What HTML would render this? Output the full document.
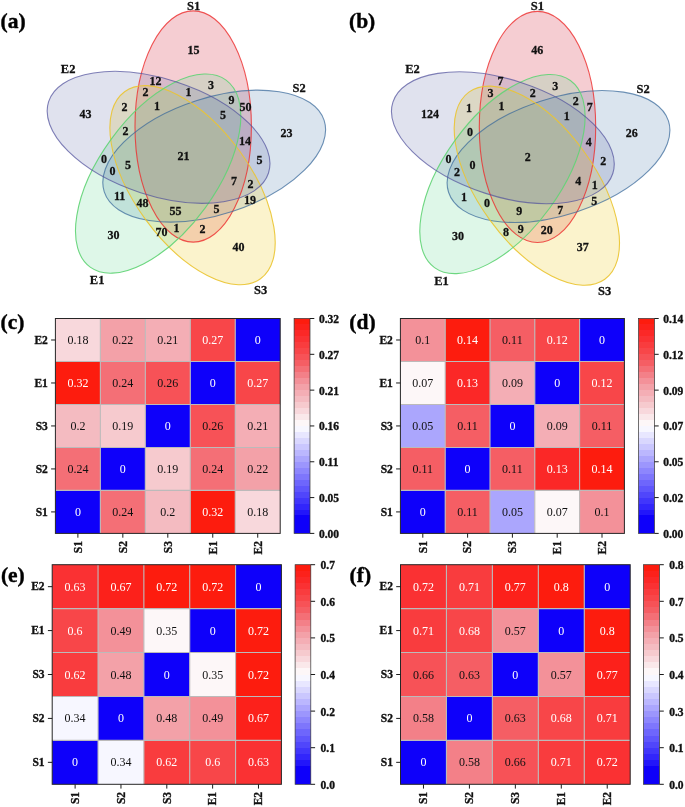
<!DOCTYPE html>
<html><head><meta charset="utf-8"><title>Figure</title><style>
html,body{margin:0;padding:0;background:#fff;}
svg{display:block}
text{font-family:"Liberation Serif","Times New Roman",serif;}
.vn{font-size:12px;font-weight:bold;stroke:#111;stroke-width:.28px;text-anchor:middle;dominant-baseline:central;fill:#111}
.vl{font-size:12.5px;font-weight:bold;stroke:#111;stroke-width:.28px;text-anchor:middle;dominant-baseline:central;fill:#111}
.tag{font-size:21.5px;font-weight:bold;stroke:#000;stroke-width:.4px;fill:#000}
.ct{font-size:12px;text-anchor:middle}
.yl{font-size:11.5px;font-weight:bold;stroke:#111;stroke-width:.35px;text-anchor:end;fill:#111}
.xl{font-size:11.5px;font-weight:bold;stroke:#111;stroke-width:.35px;text-anchor:end;fill:#111}
.cl{font-size:11.5px;font-weight:bold;stroke:#111;stroke-width:.35px;fill:#111}
.gl{stroke:#bcbaba;stroke-width:1.1}
.tk{stroke:#1a1a1a;stroke-width:1}
</style></head>
<body><svg width="685" height="807" viewBox="0 0 685 807">
<rect width="685" height="807" fill="#fff"/>
<g>
<ellipse cx="193.20" cy="126.50" rx="58.2" ry="115.6" transform="rotate(0 193.20 126.50)" fill="rgb(213, 47, 68)" fill-opacity="0.24"/>
<ellipse cx="214.20" cy="156.10" rx="58.2" ry="115.6" transform="rotate(72 214.20 156.10)" fill="rgb(87, 132, 178)" fill-opacity="0.22"/>
<ellipse cx="192.54" cy="185.22" rx="58.2" ry="115.6" transform="rotate(144 192.54 185.22)" fill="rgb(241, 215, 85)" fill-opacity="0.3"/>
<ellipse cx="158.15" cy="173.61" rx="58.2" ry="115.6" transform="rotate(216 158.15 173.61)" fill="rgb(105, 219, 150)" fill-opacity="0.22"/>
<ellipse cx="158.56" cy="137.32" rx="58.2" ry="115.6" transform="rotate(288 158.56 137.32)" fill="rgb(100, 108, 170)" fill-opacity="0.2"/>
<ellipse cx="193.20" cy="126.50" rx="58.2" ry="115.6" transform="rotate(0 193.20 126.50)" fill="none" stroke="rgb(236, 44, 44)" stroke-opacity="0.8" stroke-width="1.1"/>
<ellipse cx="214.20" cy="156.10" rx="58.2" ry="115.6" transform="rotate(72 214.20 156.10)" fill="none" stroke="rgb(56, 104, 154)" stroke-opacity="0.72" stroke-width="1.1"/>
<ellipse cx="192.54" cy="185.22" rx="58.2" ry="115.6" transform="rotate(144 192.54 185.22)" fill="none" stroke="rgb(234, 196, 50)" stroke-opacity="0.92" stroke-width="1.1"/>
<ellipse cx="158.15" cy="173.61" rx="58.2" ry="115.6" transform="rotate(216 158.15 173.61)" fill="none" stroke="rgb(98, 212, 118)" stroke-opacity="0.92" stroke-width="1.1"/>
<ellipse cx="158.56" cy="137.32" rx="58.2" ry="115.6" transform="rotate(288 158.56 137.32)" fill="none" stroke="rgb(82, 82, 156)" stroke-opacity="0.72" stroke-width="1.1"/>
<text x="193.6" y="49.8" class="vn">15</text>
<text x="155.6" y="80.8" class="vn">12</text>
<text x="211.1" y="85.3" class="vn">3</text>
<text x="145.6" y="92.3" class="vn">2</text>
<text x="188.6" y="92.3" class="vn">1</text>
<text x="231.6" y="100.3" class="vn">9</text>
<text x="245.6" y="106.8" class="vn">50</text>
<text x="124.6" y="107.3" class="vn">2</text>
<text x="157.1" y="105.8" class="vn">1</text>
<text x="85.6" y="113.8" class="vn">43</text>
<text x="223.1" y="115.3" class="vn">5</text>
<text x="286.6" y="132.8" class="vn">23</text>
<text x="125.6" y="131.3" class="vn">2</text>
<text x="245.1" y="140.8" class="vn">14</text>
<text x="183.6" y="155.8" class="vn">21</text>
<text x="104.1" y="159.3" class="vn">0</text>
<text x="259.6" y="160.3" class="vn">5</text>
<text x="128.1" y="164.8" class="vn">5</text>
<text x="112.6" y="171.3" class="vn">0</text>
<text x="234.1" y="180.8" class="vn">7</text>
<text x="250.6" y="183.8" class="vn">2</text>
<text x="119.6" y="196.3" class="vn">11</text>
<text x="250.1" y="199.8" class="vn">19</text>
<text x="142.6" y="202.8" class="vn">48</text>
<text x="175.6" y="210.8" class="vn">55</text>
<text x="216.6" y="208.8" class="vn">5</text>
<text x="161.6" y="231.8" class="vn">70</text>
<text x="176.6" y="228.3" class="vn">1</text>
<text x="202.6" y="229.3" class="vn">2</text>
<text x="113.6" y="234.8" class="vn">30</text>
<text x="238.6" y="246.8" class="vn">40</text>
<text x="193.6" y="5.8" class="vl">S1</text>
<text x="299.1" y="88.3" class="vl">S2</text>
<text x="68.1" y="68.8" class="vl">E2</text>
<text x="97.1" y="280.3" class="vl">E1</text>
<text x="260.6" y="290.3" class="vl">S3</text>
<text x="0.5" y="28.4" class="tag">(a)</text>
</g>
<g>
<ellipse cx="537.50" cy="126.95" rx="58.2" ry="115.6" transform="rotate(0 537.50 126.95)" fill="rgb(213, 47, 68)" fill-opacity="0.24"/>
<ellipse cx="558.50" cy="156.55" rx="58.2" ry="115.6" transform="rotate(72 558.50 156.55)" fill="rgb(87, 132, 178)" fill-opacity="0.22"/>
<ellipse cx="536.84" cy="185.67" rx="58.2" ry="115.6" transform="rotate(144 536.84 185.67)" fill="rgb(241, 215, 85)" fill-opacity="0.3"/>
<ellipse cx="502.45" cy="174.06" rx="58.2" ry="115.6" transform="rotate(216 502.45 174.06)" fill="rgb(105, 219, 150)" fill-opacity="0.22"/>
<ellipse cx="502.86" cy="137.77" rx="58.2" ry="115.6" transform="rotate(288 502.86 137.77)" fill="rgb(100, 108, 170)" fill-opacity="0.2"/>
<ellipse cx="537.50" cy="126.95" rx="58.2" ry="115.6" transform="rotate(0 537.50 126.95)" fill="none" stroke="rgb(236, 44, 44)" stroke-opacity="0.8" stroke-width="1.1"/>
<ellipse cx="558.50" cy="156.55" rx="58.2" ry="115.6" transform="rotate(72 558.50 156.55)" fill="none" stroke="rgb(56, 104, 154)" stroke-opacity="0.72" stroke-width="1.1"/>
<ellipse cx="536.84" cy="185.67" rx="58.2" ry="115.6" transform="rotate(144 536.84 185.67)" fill="none" stroke="rgb(234, 196, 50)" stroke-opacity="0.92" stroke-width="1.1"/>
<ellipse cx="502.45" cy="174.06" rx="58.2" ry="115.6" transform="rotate(216 502.45 174.06)" fill="none" stroke="rgb(98, 212, 118)" stroke-opacity="0.92" stroke-width="1.1"/>
<ellipse cx="502.86" cy="137.77" rx="58.2" ry="115.6" transform="rotate(288 502.86 137.77)" fill="none" stroke="rgb(82, 82, 156)" stroke-opacity="0.72" stroke-width="1.1"/>
<text x="537.3" y="49.8" class="vn">46</text>
<text x="500.4" y="80.8" class="vn">7</text>
<text x="555.3" y="85.8" class="vn">3</text>
<text x="490.4" y="93.3" class="vn">3</text>
<text x="532.8" y="92.8" class="vn">2</text>
<text x="575.8" y="100.7" class="vn">2</text>
<text x="589.7" y="106.7" class="vn">7</text>
<text x="468.9" y="107.7" class="vn">1</text>
<text x="501.4" y="106.2" class="vn">1</text>
<text x="429.9" y="113.5" class="vn">124</text>
<text x="566.8" y="115.7" class="vn">1</text>
<text x="631.7" y="133.2" class="vn">26</text>
<text x="469.9" y="131.7" class="vn">0</text>
<text x="588.7" y="141.7" class="vn">4</text>
<text x="527.8" y="156.7" class="vn">2</text>
<text x="448.4" y="158.8" class="vn">0</text>
<text x="603.2" y="160.7" class="vn">2</text>
<text x="472.4" y="165.2" class="vn">0</text>
<text x="456.9" y="172.1" class="vn">2</text>
<text x="578.2" y="181.1" class="vn">4</text>
<text x="594.7" y="184.6" class="vn">1</text>
<text x="463.9" y="196.6" class="vn">1</text>
<text x="594.2" y="200.6" class="vn">5</text>
<text x="486.9" y="203.1" class="vn">0</text>
<text x="519.3" y="211.1" class="vn">9</text>
<text x="560.3" y="209.6" class="vn">7</text>
<text x="505.9" y="232.1" class="vn">8</text>
<text x="520.8" y="228.6" class="vn">9</text>
<text x="546.8" y="229.6" class="vn">20</text>
<text x="457.9" y="235.5" class="vn">30</text>
<text x="582.7" y="247.0" class="vn">37</text>
<text x="537.3" y="5.9" class="vl">S1</text>
<text x="643.2" y="88.8" class="vl">S2</text>
<text x="412.5" y="69.3" class="vl">E2</text>
<text x="441.5" y="281.0" class="vl">E1</text>
<text x="604.7" y="290.5" class="vl">S3</text>
<text x="349" y="28.3" class="tag">(b)</text>
</g>
<g>
<rect x="55.40" y="490.42" width="44.96" height="42.98" fill="rgb(14, 0, 250)"/>
<rect x="100.36" y="490.42" width="44.96" height="42.98" fill="rgb(244, 111, 118)"/>
<rect x="145.32" y="490.42" width="44.96" height="42.98" fill="rgb(244, 187, 193)"/>
<rect x="190.28" y="490.42" width="44.96" height="42.98" fill="rgb(253, 28, 14)"/>
<rect x="235.24" y="490.42" width="44.96" height="42.98" fill="rgb(248, 216, 220)"/>
<rect x="55.40" y="447.44" width="44.96" height="42.98" fill="rgb(244, 111, 118)"/>
<rect x="100.36" y="447.44" width="44.96" height="42.98" fill="rgb(14, 0, 250)"/>
<rect x="145.32" y="447.44" width="44.96" height="42.98" fill="rgb(246, 202, 206)"/>
<rect x="190.28" y="447.44" width="44.96" height="42.98" fill="rgb(244, 111, 118)"/>
<rect x="235.24" y="447.44" width="44.96" height="42.98" fill="rgb(243, 161, 168)"/>
<rect x="55.40" y="404.46" width="44.96" height="42.98" fill="rgb(244, 187, 193)"/>
<rect x="100.36" y="404.46" width="44.96" height="42.98" fill="rgb(246, 202, 206)"/>
<rect x="145.32" y="404.46" width="44.96" height="42.98" fill="rgb(14, 0, 250)"/>
<rect x="190.28" y="404.46" width="44.96" height="42.98" fill="rgb(247, 82, 87)"/>
<rect x="235.24" y="404.46" width="44.96" height="42.98" fill="rgb(244, 174, 181)"/>
<rect x="55.40" y="361.48" width="44.96" height="42.98" fill="rgb(253, 28, 14)"/>
<rect x="100.36" y="361.48" width="44.96" height="42.98" fill="rgb(244, 111, 118)"/>
<rect x="145.32" y="361.48" width="44.96" height="42.98" fill="rgb(247, 82, 87)"/>
<rect x="190.28" y="361.48" width="44.96" height="42.98" fill="rgb(14, 0, 250)"/>
<rect x="235.24" y="361.48" width="44.96" height="42.98" fill="rgb(248, 70, 73)"/>
<rect x="55.40" y="318.50" width="44.96" height="42.98" fill="rgb(248, 216, 220)"/>
<rect x="100.36" y="318.50" width="44.96" height="42.98" fill="rgb(243, 161, 168)"/>
<rect x="145.32" y="318.50" width="44.96" height="42.98" fill="rgb(244, 174, 181)"/>
<rect x="190.28" y="318.50" width="44.96" height="42.98" fill="rgb(248, 70, 73)"/>
<rect x="235.24" y="318.50" width="44.96" height="42.98" fill="rgb(14, 0, 250)"/>
<line x1="100.36" y1="318.5" x2="100.36" y2="533.4" class="gl"/>
<line x1="55.4" y1="361.48" x2="280.2" y2="361.48" class="gl"/>
<line x1="145.32" y1="318.5" x2="145.32" y2="533.4" class="gl"/>
<line x1="55.4" y1="404.46" x2="280.2" y2="404.46" class="gl"/>
<line x1="190.28" y1="318.5" x2="190.28" y2="533.4" class="gl"/>
<line x1="55.4" y1="447.44" x2="280.2" y2="447.44" class="gl"/>
<line x1="235.24" y1="318.5" x2="235.24" y2="533.4" class="gl"/>
<line x1="55.4" y1="490.42" x2="280.2" y2="490.42" class="gl"/>
<rect x="55.4" y="318.5" width="224.8" height="214.9" fill="none" stroke="#262626" stroke-width="1"/>
<text x="77.88" y="515.91" class="ct" fill="#fff">0</text>
<text x="122.84" y="515.91" class="ct" fill="#111">0.24</text>
<text x="167.80" y="515.91" class="ct" fill="#111">0.2</text>
<text x="212.76" y="515.91" class="ct" fill="#fff">0.32</text>
<text x="257.72" y="515.91" class="ct" fill="#111">0.18</text>
<text x="77.88" y="472.93" class="ct" fill="#111">0.24</text>
<text x="122.84" y="472.93" class="ct" fill="#fff">0</text>
<text x="167.80" y="472.93" class="ct" fill="#111">0.19</text>
<text x="212.76" y="472.93" class="ct" fill="#111">0.24</text>
<text x="257.72" y="472.93" class="ct" fill="#111">0.22</text>
<text x="77.88" y="429.95" class="ct" fill="#111">0.2</text>
<text x="122.84" y="429.95" class="ct" fill="#111">0.19</text>
<text x="167.80" y="429.95" class="ct" fill="#fff">0</text>
<text x="212.76" y="429.95" class="ct" fill="#111">0.26</text>
<text x="257.72" y="429.95" class="ct" fill="#111">0.21</text>
<text x="77.88" y="386.97" class="ct" fill="#fff">0.32</text>
<text x="122.84" y="386.97" class="ct" fill="#111">0.24</text>
<text x="167.80" y="386.97" class="ct" fill="#111">0.26</text>
<text x="212.76" y="386.97" class="ct" fill="#fff">0</text>
<text x="257.72" y="386.97" class="ct" fill="#fff">0.27</text>
<text x="77.88" y="343.99" class="ct" fill="#111">0.18</text>
<text x="122.84" y="343.99" class="ct" fill="#111">0.22</text>
<text x="167.80" y="343.99" class="ct" fill="#111">0.21</text>
<text x="212.76" y="343.99" class="ct" fill="#fff">0.27</text>
<text x="257.72" y="343.99" class="ct" fill="#fff">0</text>
<line x1="51.1" y1="511.91" x2="55.4" y2="511.91" class="tk"/>
<text x="47.8" y="515.51" class="yl">S1</text>
<line x1="77.88" y1="533.4" x2="77.88" y2="537.6999999999999" class="tk"/>
<text transform="translate(81.68 541.00) rotate(-90)" class="xl">S1</text>
<line x1="51.1" y1="468.93" x2="55.4" y2="468.93" class="tk"/>
<text x="47.8" y="472.53" class="yl">S2</text>
<line x1="122.84" y1="533.4" x2="122.84" y2="537.6999999999999" class="tk"/>
<text transform="translate(126.64 541.00) rotate(-90)" class="xl">S2</text>
<line x1="51.1" y1="425.95" x2="55.4" y2="425.95" class="tk"/>
<text x="47.8" y="429.55" class="yl">S3</text>
<line x1="167.80" y1="533.4" x2="167.80" y2="537.6999999999999" class="tk"/>
<text transform="translate(171.60 541.00) rotate(-90)" class="xl">S3</text>
<line x1="51.1" y1="382.97" x2="55.4" y2="382.97" class="tk"/>
<text x="47.8" y="386.57" class="yl">E1</text>
<line x1="212.76" y1="533.4" x2="212.76" y2="537.6999999999999" class="tk"/>
<text transform="translate(216.56 541.00) rotate(-90)" class="xl">E1</text>
<line x1="51.1" y1="339.99" x2="55.4" y2="339.99" class="tk"/>
<text x="47.8" y="343.59" class="yl">E2</text>
<line x1="257.72" y1="533.4" x2="257.72" y2="537.6999999999999" class="tk"/>
<text transform="translate(261.52 541.00) rotate(-90)" class="xl">E2</text>
<defs><linearGradient id="gc" x1="0" y1="1" x2="0" y2="0"><stop offset="0.0000" stop-color="rgb(14, 0, 250)"/><stop offset="0.0278" stop-color="rgb(14, 0, 250)"/><stop offset="0.0278" stop-color="rgb(14, 0, 250)"/><stop offset="0.0556" stop-color="rgb(14, 0, 250)"/><stop offset="0.0556" stop-color="rgb(14, 0, 250)"/><stop offset="0.0833" stop-color="rgb(14, 0, 250)"/><stop offset="0.0833" stop-color="rgb(34, 22, 250)"/><stop offset="0.1111" stop-color="rgb(34, 22, 250)"/><stop offset="0.1111" stop-color="rgb(50, 38, 251)"/><stop offset="0.1389" stop-color="rgb(50, 38, 251)"/><stop offset="0.1389" stop-color="rgb(65, 54, 251)"/><stop offset="0.1667" stop-color="rgb(65, 54, 251)"/><stop offset="0.1667" stop-color="rgb(80, 70, 251)"/><stop offset="0.1944" stop-color="rgb(80, 70, 251)"/><stop offset="0.1944" stop-color="rgb(95, 86, 252)"/><stop offset="0.2222" stop-color="rgb(95, 86, 252)"/><stop offset="0.2222" stop-color="rgb(110, 102, 252)"/><stop offset="0.2500" stop-color="rgb(110, 102, 252)"/><stop offset="0.2500" stop-color="rgb(126, 118, 252)"/><stop offset="0.2778" stop-color="rgb(126, 118, 252)"/><stop offset="0.2778" stop-color="rgb(141, 134, 253)"/><stop offset="0.3056" stop-color="rgb(141, 134, 253)"/><stop offset="0.3056" stop-color="rgb(156, 150, 253)"/><stop offset="0.3333" stop-color="rgb(156, 150, 253)"/><stop offset="0.3333" stop-color="rgb(171, 166, 253)"/><stop offset="0.3611" stop-color="rgb(171, 166, 253)"/><stop offset="0.3611" stop-color="rgb(187, 183, 254)"/><stop offset="0.3889" stop-color="rgb(187, 183, 254)"/><stop offset="0.3889" stop-color="rgb(202, 199, 254)"/><stop offset="0.4167" stop-color="rgb(202, 199, 254)"/><stop offset="0.4167" stop-color="rgb(217, 215, 254)"/><stop offset="0.4444" stop-color="rgb(217, 215, 254)"/><stop offset="0.4444" stop-color="rgb(232, 231, 255)"/><stop offset="0.4722" stop-color="rgb(232, 231, 255)"/><stop offset="0.4722" stop-color="rgb(247, 247, 255)"/><stop offset="0.5000" stop-color="rgb(247, 247, 255)"/><stop offset="0.5000" stop-color="rgb(253, 247, 248)"/><stop offset="0.5278" stop-color="rgb(253, 247, 248)"/><stop offset="0.5278" stop-color="rgb(250, 232, 234)"/><stop offset="0.5556" stop-color="rgb(250, 232, 234)"/><stop offset="0.5556" stop-color="rgb(248, 216, 220)"/><stop offset="0.5833" stop-color="rgb(248, 216, 220)"/><stop offset="0.5833" stop-color="rgb(246, 202, 206)"/><stop offset="0.6111" stop-color="rgb(246, 202, 206)"/><stop offset="0.6111" stop-color="rgb(244, 187, 193)"/><stop offset="0.6389" stop-color="rgb(244, 187, 193)"/><stop offset="0.6389" stop-color="rgb(244, 174, 181)"/><stop offset="0.6667" stop-color="rgb(244, 174, 181)"/><stop offset="0.6667" stop-color="rgb(243, 161, 168)"/><stop offset="0.6944" stop-color="rgb(243, 161, 168)"/><stop offset="0.6944" stop-color="rgb(243, 145, 153)"/><stop offset="0.7222" stop-color="rgb(243, 145, 153)"/><stop offset="0.7222" stop-color="rgb(243, 128, 136)"/><stop offset="0.7500" stop-color="rgb(243, 128, 136)"/><stop offset="0.7500" stop-color="rgb(244, 111, 118)"/><stop offset="0.7778" stop-color="rgb(244, 111, 118)"/><stop offset="0.7778" stop-color="rgb(245, 94, 100)"/><stop offset="0.8056" stop-color="rgb(245, 94, 100)"/><stop offset="0.8056" stop-color="rgb(247, 82, 87)"/><stop offset="0.8333" stop-color="rgb(247, 82, 87)"/><stop offset="0.8333" stop-color="rgb(248, 70, 73)"/><stop offset="0.8611" stop-color="rgb(248, 70, 73)"/><stop offset="0.8611" stop-color="rgb(249, 60, 62)"/><stop offset="0.8889" stop-color="rgb(249, 60, 62)"/><stop offset="0.8889" stop-color="rgb(250, 49, 51)"/><stop offset="0.9167" stop-color="rgb(250, 49, 51)"/><stop offset="0.9167" stop-color="rgb(251, 40, 39)"/><stop offset="0.9444" stop-color="rgb(251, 40, 39)"/><stop offset="0.9444" stop-color="rgb(252, 33, 27)"/><stop offset="0.9722" stop-color="rgb(252, 33, 27)"/><stop offset="0.9722" stop-color="rgb(253, 28, 14)"/><stop offset="1.0000" stop-color="rgb(253, 28, 14)"/></linearGradient></defs>
<rect x="294.1" y="318.5" width="15.9" height="214.9" fill="url(#gc)"/>
<rect x="294.1" y="318.5" width="15.9" height="214.9" fill="none" stroke="#333" stroke-width="0.7"/>
<line x1="310.0" y1="533.40" x2="314.3" y2="533.40" class="tk"/>
<text x="318.90" y="537.80" class="cl">0.00</text>
<line x1="310.0" y1="497.58" x2="314.3" y2="497.58" class="tk"/>
<text x="318.90" y="501.98" class="cl">0.05</text>
<line x1="310.0" y1="461.77" x2="314.3" y2="461.77" class="tk"/>
<text x="318.90" y="466.17" class="cl">0.11</text>
<line x1="310.0" y1="425.95" x2="314.3" y2="425.95" class="tk"/>
<text x="318.90" y="430.35" class="cl">0.16</text>
<line x1="310.0" y1="390.13" x2="314.3" y2="390.13" class="tk"/>
<text x="318.90" y="394.53" class="cl">0.21</text>
<line x1="310.0" y1="354.32" x2="314.3" y2="354.32" class="tk"/>
<text x="318.90" y="358.72" class="cl">0.27</text>
<line x1="310.0" y1="318.50" x2="314.3" y2="318.50" class="tk"/>
<text x="318.90" y="322.90" class="cl">0.32</text>
<text x="0.6" y="329.3" class="tag">(c)</text>
</g>
<g>
<rect x="400.40" y="490.42" width="44.80" height="42.98" fill="rgb(14, 0, 250)"/>
<rect x="445.20" y="490.42" width="44.80" height="42.98" fill="rgb(245, 94, 100)"/>
<rect x="490.00" y="490.42" width="44.80" height="42.98" fill="rgb(171, 166, 253)"/>
<rect x="534.80" y="490.42" width="44.80" height="42.98" fill="rgb(253, 247, 248)"/>
<rect x="579.60" y="490.42" width="44.80" height="42.98" fill="rgb(243, 145, 153)"/>
<rect x="400.40" y="447.44" width="44.80" height="42.98" fill="rgb(245, 94, 100)"/>
<rect x="445.20" y="447.44" width="44.80" height="42.98" fill="rgb(14, 0, 250)"/>
<rect x="490.00" y="447.44" width="44.80" height="42.98" fill="rgb(245, 94, 100)"/>
<rect x="534.80" y="447.44" width="44.80" height="42.98" fill="rgb(251, 40, 39)"/>
<rect x="579.60" y="447.44" width="44.80" height="42.98" fill="rgb(253, 28, 14)"/>
<rect x="400.40" y="404.46" width="44.80" height="42.98" fill="rgb(171, 166, 253)"/>
<rect x="445.20" y="404.46" width="44.80" height="42.98" fill="rgb(245, 94, 100)"/>
<rect x="490.00" y="404.46" width="44.80" height="42.98" fill="rgb(14, 0, 250)"/>
<rect x="534.80" y="404.46" width="44.80" height="42.98" fill="rgb(244, 174, 181)"/>
<rect x="579.60" y="404.46" width="44.80" height="42.98" fill="rgb(245, 94, 100)"/>
<rect x="400.40" y="361.48" width="44.80" height="42.98" fill="rgb(253, 247, 248)"/>
<rect x="445.20" y="361.48" width="44.80" height="42.98" fill="rgb(251, 40, 39)"/>
<rect x="490.00" y="361.48" width="44.80" height="42.98" fill="rgb(244, 174, 181)"/>
<rect x="534.80" y="361.48" width="44.80" height="42.98" fill="rgb(14, 0, 250)"/>
<rect x="579.60" y="361.48" width="44.80" height="42.98" fill="rgb(248, 70, 73)"/>
<rect x="400.40" y="318.50" width="44.80" height="42.98" fill="rgb(243, 145, 153)"/>
<rect x="445.20" y="318.50" width="44.80" height="42.98" fill="rgb(253, 28, 14)"/>
<rect x="490.00" y="318.50" width="44.80" height="42.98" fill="rgb(245, 94, 100)"/>
<rect x="534.80" y="318.50" width="44.80" height="42.98" fill="rgb(248, 70, 73)"/>
<rect x="579.60" y="318.50" width="44.80" height="42.98" fill="rgb(14, 0, 250)"/>
<line x1="445.20" y1="318.5" x2="445.20" y2="533.4" class="gl"/>
<line x1="400.4" y1="361.48" x2="624.4" y2="361.48" class="gl"/>
<line x1="490.00" y1="318.5" x2="490.00" y2="533.4" class="gl"/>
<line x1="400.4" y1="404.46" x2="624.4" y2="404.46" class="gl"/>
<line x1="534.80" y1="318.5" x2="534.80" y2="533.4" class="gl"/>
<line x1="400.4" y1="447.44" x2="624.4" y2="447.44" class="gl"/>
<line x1="579.60" y1="318.5" x2="579.60" y2="533.4" class="gl"/>
<line x1="400.4" y1="490.42" x2="624.4" y2="490.42" class="gl"/>
<rect x="400.4" y="318.5" width="224.0" height="214.9" fill="none" stroke="#262626" stroke-width="1"/>
<text x="422.80" y="515.91" class="ct" fill="#fff">0</text>
<text x="467.60" y="515.91" class="ct" fill="#111">0.11</text>
<text x="512.40" y="515.91" class="ct" fill="#111">0.05</text>
<text x="557.20" y="515.91" class="ct" fill="#111">0.07</text>
<text x="602.00" y="515.91" class="ct" fill="#111">0.1</text>
<text x="422.80" y="472.93" class="ct" fill="#111">0.11</text>
<text x="467.60" y="472.93" class="ct" fill="#fff">0</text>
<text x="512.40" y="472.93" class="ct" fill="#111">0.11</text>
<text x="557.20" y="472.93" class="ct" fill="#fff">0.13</text>
<text x="602.00" y="472.93" class="ct" fill="#fff">0.14</text>
<text x="422.80" y="429.95" class="ct" fill="#111">0.05</text>
<text x="467.60" y="429.95" class="ct" fill="#111">0.11</text>
<text x="512.40" y="429.95" class="ct" fill="#fff">0</text>
<text x="557.20" y="429.95" class="ct" fill="#111">0.09</text>
<text x="602.00" y="429.95" class="ct" fill="#111">0.11</text>
<text x="422.80" y="386.97" class="ct" fill="#111">0.07</text>
<text x="467.60" y="386.97" class="ct" fill="#fff">0.13</text>
<text x="512.40" y="386.97" class="ct" fill="#111">0.09</text>
<text x="557.20" y="386.97" class="ct" fill="#fff">0</text>
<text x="602.00" y="386.97" class="ct" fill="#fff">0.12</text>
<text x="422.80" y="343.99" class="ct" fill="#111">0.1</text>
<text x="467.60" y="343.99" class="ct" fill="#fff">0.14</text>
<text x="512.40" y="343.99" class="ct" fill="#111">0.11</text>
<text x="557.20" y="343.99" class="ct" fill="#fff">0.12</text>
<text x="602.00" y="343.99" class="ct" fill="#fff">0</text>
<line x1="396.09999999999997" y1="511.91" x2="400.4" y2="511.91" class="tk"/>
<text x="392.79999999999995" y="515.51" class="yl">S1</text>
<line x1="422.80" y1="533.4" x2="422.80" y2="537.6999999999999" class="tk"/>
<text transform="translate(426.60 541.00) rotate(-90)" class="xl">S1</text>
<line x1="396.09999999999997" y1="468.93" x2="400.4" y2="468.93" class="tk"/>
<text x="392.79999999999995" y="472.53" class="yl">S2</text>
<line x1="467.60" y1="533.4" x2="467.60" y2="537.6999999999999" class="tk"/>
<text transform="translate(471.40 541.00) rotate(-90)" class="xl">S2</text>
<line x1="396.09999999999997" y1="425.95" x2="400.4" y2="425.95" class="tk"/>
<text x="392.79999999999995" y="429.55" class="yl">S3</text>
<line x1="512.40" y1="533.4" x2="512.40" y2="537.6999999999999" class="tk"/>
<text transform="translate(516.20 541.00) rotate(-90)" class="xl">S3</text>
<line x1="396.09999999999997" y1="382.97" x2="400.4" y2="382.97" class="tk"/>
<text x="392.79999999999995" y="386.57" class="yl">E1</text>
<line x1="557.20" y1="533.4" x2="557.20" y2="537.6999999999999" class="tk"/>
<text transform="translate(561.00 541.00) rotate(-90)" class="xl">E1</text>
<line x1="396.09999999999997" y1="339.99" x2="400.4" y2="339.99" class="tk"/>
<text x="392.79999999999995" y="343.59" class="yl">E2</text>
<line x1="602.00" y1="533.4" x2="602.00" y2="537.6999999999999" class="tk"/>
<text transform="translate(605.80 541.00) rotate(-90)" class="xl">E2</text>
<defs><linearGradient id="gd" x1="0" y1="1" x2="0" y2="0"><stop offset="0.0000" stop-color="rgb(14, 0, 250)"/><stop offset="0.0278" stop-color="rgb(14, 0, 250)"/><stop offset="0.0278" stop-color="rgb(14, 0, 250)"/><stop offset="0.0556" stop-color="rgb(14, 0, 250)"/><stop offset="0.0556" stop-color="rgb(14, 0, 250)"/><stop offset="0.0833" stop-color="rgb(14, 0, 250)"/><stop offset="0.0833" stop-color="rgb(34, 22, 250)"/><stop offset="0.1111" stop-color="rgb(34, 22, 250)"/><stop offset="0.1111" stop-color="rgb(50, 38, 251)"/><stop offset="0.1389" stop-color="rgb(50, 38, 251)"/><stop offset="0.1389" stop-color="rgb(65, 54, 251)"/><stop offset="0.1667" stop-color="rgb(65, 54, 251)"/><stop offset="0.1667" stop-color="rgb(80, 70, 251)"/><stop offset="0.1944" stop-color="rgb(80, 70, 251)"/><stop offset="0.1944" stop-color="rgb(95, 86, 252)"/><stop offset="0.2222" stop-color="rgb(95, 86, 252)"/><stop offset="0.2222" stop-color="rgb(110, 102, 252)"/><stop offset="0.2500" stop-color="rgb(110, 102, 252)"/><stop offset="0.2500" stop-color="rgb(126, 118, 252)"/><stop offset="0.2778" stop-color="rgb(126, 118, 252)"/><stop offset="0.2778" stop-color="rgb(141, 134, 253)"/><stop offset="0.3056" stop-color="rgb(141, 134, 253)"/><stop offset="0.3056" stop-color="rgb(156, 150, 253)"/><stop offset="0.3333" stop-color="rgb(156, 150, 253)"/><stop offset="0.3333" stop-color="rgb(171, 166, 253)"/><stop offset="0.3611" stop-color="rgb(171, 166, 253)"/><stop offset="0.3611" stop-color="rgb(187, 183, 254)"/><stop offset="0.3889" stop-color="rgb(187, 183, 254)"/><stop offset="0.3889" stop-color="rgb(202, 199, 254)"/><stop offset="0.4167" stop-color="rgb(202, 199, 254)"/><stop offset="0.4167" stop-color="rgb(217, 215, 254)"/><stop offset="0.4444" stop-color="rgb(217, 215, 254)"/><stop offset="0.4444" stop-color="rgb(232, 231, 255)"/><stop offset="0.4722" stop-color="rgb(232, 231, 255)"/><stop offset="0.4722" stop-color="rgb(247, 247, 255)"/><stop offset="0.5000" stop-color="rgb(247, 247, 255)"/><stop offset="0.5000" stop-color="rgb(253, 247, 248)"/><stop offset="0.5278" stop-color="rgb(253, 247, 248)"/><stop offset="0.5278" stop-color="rgb(250, 232, 234)"/><stop offset="0.5556" stop-color="rgb(250, 232, 234)"/><stop offset="0.5556" stop-color="rgb(248, 216, 220)"/><stop offset="0.5833" stop-color="rgb(248, 216, 220)"/><stop offset="0.5833" stop-color="rgb(246, 202, 206)"/><stop offset="0.6111" stop-color="rgb(246, 202, 206)"/><stop offset="0.6111" stop-color="rgb(244, 187, 193)"/><stop offset="0.6389" stop-color="rgb(244, 187, 193)"/><stop offset="0.6389" stop-color="rgb(244, 174, 181)"/><stop offset="0.6667" stop-color="rgb(244, 174, 181)"/><stop offset="0.6667" stop-color="rgb(243, 161, 168)"/><stop offset="0.6944" stop-color="rgb(243, 161, 168)"/><stop offset="0.6944" stop-color="rgb(243, 145, 153)"/><stop offset="0.7222" stop-color="rgb(243, 145, 153)"/><stop offset="0.7222" stop-color="rgb(243, 128, 136)"/><stop offset="0.7500" stop-color="rgb(243, 128, 136)"/><stop offset="0.7500" stop-color="rgb(244, 111, 118)"/><stop offset="0.7778" stop-color="rgb(244, 111, 118)"/><stop offset="0.7778" stop-color="rgb(245, 94, 100)"/><stop offset="0.8056" stop-color="rgb(245, 94, 100)"/><stop offset="0.8056" stop-color="rgb(247, 82, 87)"/><stop offset="0.8333" stop-color="rgb(247, 82, 87)"/><stop offset="0.8333" stop-color="rgb(248, 70, 73)"/><stop offset="0.8611" stop-color="rgb(248, 70, 73)"/><stop offset="0.8611" stop-color="rgb(249, 60, 62)"/><stop offset="0.8889" stop-color="rgb(249, 60, 62)"/><stop offset="0.8889" stop-color="rgb(250, 49, 51)"/><stop offset="0.9167" stop-color="rgb(250, 49, 51)"/><stop offset="0.9167" stop-color="rgb(251, 40, 39)"/><stop offset="0.9444" stop-color="rgb(251, 40, 39)"/><stop offset="0.9444" stop-color="rgb(252, 33, 27)"/><stop offset="0.9722" stop-color="rgb(252, 33, 27)"/><stop offset="0.9722" stop-color="rgb(253, 28, 14)"/><stop offset="1.0000" stop-color="rgb(253, 28, 14)"/></linearGradient></defs>
<rect x="638.6" y="318.5" width="15.8" height="214.9" fill="url(#gd)"/>
<rect x="638.6" y="318.5" width="15.8" height="214.9" fill="none" stroke="#333" stroke-width="0.7"/>
<line x1="654.4" y1="533.40" x2="658.6999999999999" y2="533.40" class="tk"/>
<text x="663.20" y="537.80" class="cl">0.00</text>
<line x1="654.4" y1="497.58" x2="658.6999999999999" y2="497.58" class="tk"/>
<text x="663.20" y="501.98" class="cl">0.02</text>
<line x1="654.4" y1="461.77" x2="658.6999999999999" y2="461.77" class="tk"/>
<text x="663.20" y="466.17" class="cl">0.05</text>
<line x1="654.4" y1="425.95" x2="658.6999999999999" y2="425.95" class="tk"/>
<text x="663.20" y="430.35" class="cl">0.07</text>
<line x1="654.4" y1="390.13" x2="658.6999999999999" y2="390.13" class="tk"/>
<text x="663.20" y="394.53" class="cl">0.09</text>
<line x1="654.4" y1="354.32" x2="658.6999999999999" y2="354.32" class="tk"/>
<text x="663.20" y="358.72" class="cl">0.12</text>
<line x1="654.4" y1="318.50" x2="658.6999999999999" y2="318.50" class="tk"/>
<text x="663.20" y="322.90" class="cl">0.14</text>
<text x="349.3" y="329.3" class="tag">(d)</text>
</g>
<g>
<rect x="52.20" y="740.38" width="45.84" height="43.92" fill="rgb(14, 0, 250)"/>
<rect x="98.04" y="740.38" width="45.84" height="43.92" fill="rgb(247, 247, 255)"/>
<rect x="143.88" y="740.38" width="45.84" height="43.92" fill="rgb(249, 60, 62)"/>
<rect x="189.72" y="740.38" width="45.84" height="43.92" fill="rgb(248, 70, 73)"/>
<rect x="235.56" y="740.38" width="45.84" height="43.92" fill="rgb(250, 49, 51)"/>
<rect x="52.20" y="696.46" width="45.84" height="43.92" fill="rgb(247, 247, 255)"/>
<rect x="98.04" y="696.46" width="45.84" height="43.92" fill="rgb(14, 0, 250)"/>
<rect x="143.88" y="696.46" width="45.84" height="43.92" fill="rgb(243, 161, 168)"/>
<rect x="189.72" y="696.46" width="45.84" height="43.92" fill="rgb(243, 145, 153)"/>
<rect x="235.56" y="696.46" width="45.84" height="43.92" fill="rgb(252, 33, 27)"/>
<rect x="52.20" y="652.54" width="45.84" height="43.92" fill="rgb(249, 60, 62)"/>
<rect x="98.04" y="652.54" width="45.84" height="43.92" fill="rgb(243, 161, 168)"/>
<rect x="143.88" y="652.54" width="45.84" height="43.92" fill="rgb(14, 0, 250)"/>
<rect x="189.72" y="652.54" width="45.84" height="43.92" fill="rgb(253, 247, 248)"/>
<rect x="235.56" y="652.54" width="45.84" height="43.92" fill="rgb(253, 28, 14)"/>
<rect x="52.20" y="608.62" width="45.84" height="43.92" fill="rgb(248, 70, 73)"/>
<rect x="98.04" y="608.62" width="45.84" height="43.92" fill="rgb(243, 145, 153)"/>
<rect x="143.88" y="608.62" width="45.84" height="43.92" fill="rgb(253, 247, 248)"/>
<rect x="189.72" y="608.62" width="45.84" height="43.92" fill="rgb(14, 0, 250)"/>
<rect x="235.56" y="608.62" width="45.84" height="43.92" fill="rgb(253, 28, 14)"/>
<rect x="52.20" y="564.70" width="45.84" height="43.92" fill="rgb(250, 49, 51)"/>
<rect x="98.04" y="564.70" width="45.84" height="43.92" fill="rgb(252, 33, 27)"/>
<rect x="143.88" y="564.70" width="45.84" height="43.92" fill="rgb(253, 28, 14)"/>
<rect x="189.72" y="564.70" width="45.84" height="43.92" fill="rgb(253, 28, 14)"/>
<rect x="235.56" y="564.70" width="45.84" height="43.92" fill="rgb(14, 0, 250)"/>
<line x1="98.04" y1="564.7" x2="98.04" y2="784.3000000000001" class="gl"/>
<line x1="52.2" y1="608.62" x2="281.4" y2="608.62" class="gl"/>
<line x1="143.88" y1="564.7" x2="143.88" y2="784.3000000000001" class="gl"/>
<line x1="52.2" y1="652.54" x2="281.4" y2="652.54" class="gl"/>
<line x1="189.72" y1="564.7" x2="189.72" y2="784.3000000000001" class="gl"/>
<line x1="52.2" y1="696.46" x2="281.4" y2="696.46" class="gl"/>
<line x1="235.56" y1="564.7" x2="235.56" y2="784.3000000000001" class="gl"/>
<line x1="52.2" y1="740.38" x2="281.4" y2="740.38" class="gl"/>
<rect x="52.2" y="564.7" width="229.2" height="219.6" fill="none" stroke="#262626" stroke-width="1"/>
<text x="75.12" y="766.34" class="ct" fill="#fff">0</text>
<text x="120.96" y="766.34" class="ct" fill="#111">0.34</text>
<text x="166.80" y="766.34" class="ct" fill="#fff">0.62</text>
<text x="212.64" y="766.34" class="ct" fill="#fff">0.6</text>
<text x="258.48" y="766.34" class="ct" fill="#fff">0.63</text>
<text x="75.12" y="722.42" class="ct" fill="#111">0.34</text>
<text x="120.96" y="722.42" class="ct" fill="#fff">0</text>
<text x="166.80" y="722.42" class="ct" fill="#111">0.48</text>
<text x="212.64" y="722.42" class="ct" fill="#111">0.49</text>
<text x="258.48" y="722.42" class="ct" fill="#fff">0.67</text>
<text x="75.12" y="678.50" class="ct" fill="#fff">0.62</text>
<text x="120.96" y="678.50" class="ct" fill="#111">0.48</text>
<text x="166.80" y="678.50" class="ct" fill="#fff">0</text>
<text x="212.64" y="678.50" class="ct" fill="#111">0.35</text>
<text x="258.48" y="678.50" class="ct" fill="#fff">0.72</text>
<text x="75.12" y="634.58" class="ct" fill="#fff">0.6</text>
<text x="120.96" y="634.58" class="ct" fill="#111">0.49</text>
<text x="166.80" y="634.58" class="ct" fill="#111">0.35</text>
<text x="212.64" y="634.58" class="ct" fill="#fff">0</text>
<text x="258.48" y="634.58" class="ct" fill="#fff">0.72</text>
<text x="75.12" y="590.66" class="ct" fill="#fff">0.63</text>
<text x="120.96" y="590.66" class="ct" fill="#fff">0.67</text>
<text x="166.80" y="590.66" class="ct" fill="#fff">0.72</text>
<text x="212.64" y="590.66" class="ct" fill="#fff">0.72</text>
<text x="258.48" y="590.66" class="ct" fill="#fff">0</text>
<line x1="47.900000000000006" y1="762.34" x2="52.2" y2="762.34" class="tk"/>
<text x="44.6" y="765.94" class="yl">S1</text>
<line x1="75.12" y1="784.3000000000001" x2="75.12" y2="788.6" class="tk"/>
<text transform="translate(78.92 791.90) rotate(-90)" class="xl">S1</text>
<line x1="47.900000000000006" y1="718.42" x2="52.2" y2="718.42" class="tk"/>
<text x="44.6" y="722.02" class="yl">S2</text>
<line x1="120.96" y1="784.3000000000001" x2="120.96" y2="788.6" class="tk"/>
<text transform="translate(124.76 791.90) rotate(-90)" class="xl">S2</text>
<line x1="47.900000000000006" y1="674.50" x2="52.2" y2="674.50" class="tk"/>
<text x="44.6" y="678.10" class="yl">S3</text>
<line x1="166.80" y1="784.3000000000001" x2="166.80" y2="788.6" class="tk"/>
<text transform="translate(170.60 791.90) rotate(-90)" class="xl">S3</text>
<line x1="47.900000000000006" y1="630.58" x2="52.2" y2="630.58" class="tk"/>
<text x="44.6" y="634.18" class="yl">E1</text>
<line x1="212.64" y1="784.3000000000001" x2="212.64" y2="788.6" class="tk"/>
<text transform="translate(216.44 791.90) rotate(-90)" class="xl">E1</text>
<line x1="47.900000000000006" y1="586.66" x2="52.2" y2="586.66" class="tk"/>
<text x="44.6" y="590.26" class="yl">E2</text>
<line x1="258.48" y1="784.3000000000001" x2="258.48" y2="788.6" class="tk"/>
<text transform="translate(262.28 791.90) rotate(-90)" class="xl">E2</text>
<defs><linearGradient id="ge" x1="0" y1="1" x2="0" y2="0"><stop offset="0.0000" stop-color="rgb(14, 0, 250)"/><stop offset="0.0278" stop-color="rgb(14, 0, 250)"/><stop offset="0.0278" stop-color="rgb(14, 0, 250)"/><stop offset="0.0556" stop-color="rgb(14, 0, 250)"/><stop offset="0.0556" stop-color="rgb(14, 0, 250)"/><stop offset="0.0833" stop-color="rgb(14, 0, 250)"/><stop offset="0.0833" stop-color="rgb(34, 22, 250)"/><stop offset="0.1111" stop-color="rgb(34, 22, 250)"/><stop offset="0.1111" stop-color="rgb(50, 38, 251)"/><stop offset="0.1389" stop-color="rgb(50, 38, 251)"/><stop offset="0.1389" stop-color="rgb(65, 54, 251)"/><stop offset="0.1667" stop-color="rgb(65, 54, 251)"/><stop offset="0.1667" stop-color="rgb(80, 70, 251)"/><stop offset="0.1944" stop-color="rgb(80, 70, 251)"/><stop offset="0.1944" stop-color="rgb(95, 86, 252)"/><stop offset="0.2222" stop-color="rgb(95, 86, 252)"/><stop offset="0.2222" stop-color="rgb(110, 102, 252)"/><stop offset="0.2500" stop-color="rgb(110, 102, 252)"/><stop offset="0.2500" stop-color="rgb(126, 118, 252)"/><stop offset="0.2778" stop-color="rgb(126, 118, 252)"/><stop offset="0.2778" stop-color="rgb(141, 134, 253)"/><stop offset="0.3056" stop-color="rgb(141, 134, 253)"/><stop offset="0.3056" stop-color="rgb(156, 150, 253)"/><stop offset="0.3333" stop-color="rgb(156, 150, 253)"/><stop offset="0.3333" stop-color="rgb(171, 166, 253)"/><stop offset="0.3611" stop-color="rgb(171, 166, 253)"/><stop offset="0.3611" stop-color="rgb(187, 183, 254)"/><stop offset="0.3889" stop-color="rgb(187, 183, 254)"/><stop offset="0.3889" stop-color="rgb(202, 199, 254)"/><stop offset="0.4167" stop-color="rgb(202, 199, 254)"/><stop offset="0.4167" stop-color="rgb(217, 215, 254)"/><stop offset="0.4444" stop-color="rgb(217, 215, 254)"/><stop offset="0.4444" stop-color="rgb(232, 231, 255)"/><stop offset="0.4722" stop-color="rgb(232, 231, 255)"/><stop offset="0.4722" stop-color="rgb(247, 247, 255)"/><stop offset="0.5000" stop-color="rgb(247, 247, 255)"/><stop offset="0.5000" stop-color="rgb(253, 247, 248)"/><stop offset="0.5278" stop-color="rgb(253, 247, 248)"/><stop offset="0.5278" stop-color="rgb(250, 232, 234)"/><stop offset="0.5556" stop-color="rgb(250, 232, 234)"/><stop offset="0.5556" stop-color="rgb(248, 216, 220)"/><stop offset="0.5833" stop-color="rgb(248, 216, 220)"/><stop offset="0.5833" stop-color="rgb(246, 202, 206)"/><stop offset="0.6111" stop-color="rgb(246, 202, 206)"/><stop offset="0.6111" stop-color="rgb(244, 187, 193)"/><stop offset="0.6389" stop-color="rgb(244, 187, 193)"/><stop offset="0.6389" stop-color="rgb(244, 174, 181)"/><stop offset="0.6667" stop-color="rgb(244, 174, 181)"/><stop offset="0.6667" stop-color="rgb(243, 161, 168)"/><stop offset="0.6944" stop-color="rgb(243, 161, 168)"/><stop offset="0.6944" stop-color="rgb(243, 145, 153)"/><stop offset="0.7222" stop-color="rgb(243, 145, 153)"/><stop offset="0.7222" stop-color="rgb(243, 128, 136)"/><stop offset="0.7500" stop-color="rgb(243, 128, 136)"/><stop offset="0.7500" stop-color="rgb(244, 111, 118)"/><stop offset="0.7778" stop-color="rgb(244, 111, 118)"/><stop offset="0.7778" stop-color="rgb(245, 94, 100)"/><stop offset="0.8056" stop-color="rgb(245, 94, 100)"/><stop offset="0.8056" stop-color="rgb(247, 82, 87)"/><stop offset="0.8333" stop-color="rgb(247, 82, 87)"/><stop offset="0.8333" stop-color="rgb(248, 70, 73)"/><stop offset="0.8611" stop-color="rgb(248, 70, 73)"/><stop offset="0.8611" stop-color="rgb(249, 60, 62)"/><stop offset="0.8889" stop-color="rgb(249, 60, 62)"/><stop offset="0.8889" stop-color="rgb(250, 49, 51)"/><stop offset="0.9167" stop-color="rgb(250, 49, 51)"/><stop offset="0.9167" stop-color="rgb(251, 40, 39)"/><stop offset="0.9444" stop-color="rgb(251, 40, 39)"/><stop offset="0.9444" stop-color="rgb(252, 33, 27)"/><stop offset="0.9722" stop-color="rgb(252, 33, 27)"/><stop offset="0.9722" stop-color="rgb(253, 28, 14)"/><stop offset="1.0000" stop-color="rgb(253, 28, 14)"/></linearGradient></defs>
<rect x="295.1" y="564.7" width="15.7" height="219.6" fill="url(#ge)"/>
<rect x="295.1" y="564.7" width="15.7" height="219.6" fill="none" stroke="#333" stroke-width="0.7"/>
<line x1="310.8" y1="784.30" x2="315.1" y2="784.30" class="tk"/>
<text x="320.50" y="788.70" class="cl">0.0</text>
<line x1="310.8" y1="747.70" x2="315.1" y2="747.70" class="tk"/>
<text x="320.50" y="752.10" class="cl">0.1</text>
<line x1="310.8" y1="711.10" x2="315.1" y2="711.10" class="tk"/>
<text x="320.50" y="715.50" class="cl">0.2</text>
<line x1="310.8" y1="674.50" x2="315.1" y2="674.50" class="tk"/>
<text x="320.50" y="678.90" class="cl">0.4</text>
<line x1="310.8" y1="637.90" x2="315.1" y2="637.90" class="tk"/>
<text x="320.50" y="642.30" class="cl">0.5</text>
<line x1="310.8" y1="601.30" x2="315.1" y2="601.30" class="tk"/>
<text x="320.50" y="605.70" class="cl">0.6</text>
<line x1="310.8" y1="564.70" x2="315.1" y2="564.70" class="tk"/>
<text x="320.50" y="569.10" class="cl">0.7</text>
<text x="0.9" y="582.4" class="tag">(e)</text>
</g>
<g>
<rect x="400.50" y="740.38" width="45.94" height="43.92" fill="rgb(14, 0, 250)"/>
<rect x="446.44" y="740.38" width="45.94" height="43.92" fill="rgb(243, 128, 136)"/>
<rect x="492.38" y="740.38" width="45.94" height="43.92" fill="rgb(247, 82, 87)"/>
<rect x="538.32" y="740.38" width="45.94" height="43.92" fill="rgb(249, 60, 62)"/>
<rect x="584.26" y="740.38" width="45.94" height="43.92" fill="rgb(250, 49, 51)"/>
<rect x="400.50" y="696.46" width="45.94" height="43.92" fill="rgb(243, 128, 136)"/>
<rect x="446.44" y="696.46" width="45.94" height="43.92" fill="rgb(14, 0, 250)"/>
<rect x="492.38" y="696.46" width="45.94" height="43.92" fill="rgb(245, 94, 100)"/>
<rect x="538.32" y="696.46" width="45.94" height="43.92" fill="rgb(248, 70, 73)"/>
<rect x="584.26" y="696.46" width="45.94" height="43.92" fill="rgb(249, 60, 62)"/>
<rect x="400.50" y="652.54" width="45.94" height="43.92" fill="rgb(247, 82, 87)"/>
<rect x="446.44" y="652.54" width="45.94" height="43.92" fill="rgb(245, 94, 100)"/>
<rect x="492.38" y="652.54" width="45.94" height="43.92" fill="rgb(14, 0, 250)"/>
<rect x="538.32" y="652.54" width="45.94" height="43.92" fill="rgb(243, 145, 153)"/>
<rect x="584.26" y="652.54" width="45.94" height="43.92" fill="rgb(252, 33, 27)"/>
<rect x="400.50" y="608.62" width="45.94" height="43.92" fill="rgb(249, 60, 62)"/>
<rect x="446.44" y="608.62" width="45.94" height="43.92" fill="rgb(248, 70, 73)"/>
<rect x="492.38" y="608.62" width="45.94" height="43.92" fill="rgb(243, 145, 153)"/>
<rect x="538.32" y="608.62" width="45.94" height="43.92" fill="rgb(14, 0, 250)"/>
<rect x="584.26" y="608.62" width="45.94" height="43.92" fill="rgb(253, 28, 14)"/>
<rect x="400.50" y="564.70" width="45.94" height="43.92" fill="rgb(250, 49, 51)"/>
<rect x="446.44" y="564.70" width="45.94" height="43.92" fill="rgb(249, 60, 62)"/>
<rect x="492.38" y="564.70" width="45.94" height="43.92" fill="rgb(252, 33, 27)"/>
<rect x="538.32" y="564.70" width="45.94" height="43.92" fill="rgb(253, 28, 14)"/>
<rect x="584.26" y="564.70" width="45.94" height="43.92" fill="rgb(14, 0, 250)"/>
<line x1="446.44" y1="564.7" x2="446.44" y2="784.3000000000001" class="gl"/>
<line x1="400.5" y1="608.62" x2="630.2" y2="608.62" class="gl"/>
<line x1="492.38" y1="564.7" x2="492.38" y2="784.3000000000001" class="gl"/>
<line x1="400.5" y1="652.54" x2="630.2" y2="652.54" class="gl"/>
<line x1="538.32" y1="564.7" x2="538.32" y2="784.3000000000001" class="gl"/>
<line x1="400.5" y1="696.46" x2="630.2" y2="696.46" class="gl"/>
<line x1="584.26" y1="564.7" x2="584.26" y2="784.3000000000001" class="gl"/>
<line x1="400.5" y1="740.38" x2="630.2" y2="740.38" class="gl"/>
<rect x="400.5" y="564.7" width="229.7" height="219.6" fill="none" stroke="#262626" stroke-width="1"/>
<text x="423.47" y="766.34" class="ct" fill="#fff">0</text>
<text x="469.41" y="766.34" class="ct" fill="#111">0.58</text>
<text x="515.35" y="766.34" class="ct" fill="#111">0.66</text>
<text x="561.29" y="766.34" class="ct" fill="#fff">0.71</text>
<text x="607.23" y="766.34" class="ct" fill="#fff">0.72</text>
<text x="423.47" y="722.42" class="ct" fill="#111">0.58</text>
<text x="469.41" y="722.42" class="ct" fill="#fff">0</text>
<text x="515.35" y="722.42" class="ct" fill="#111">0.63</text>
<text x="561.29" y="722.42" class="ct" fill="#fff">0.68</text>
<text x="607.23" y="722.42" class="ct" fill="#fff">0.71</text>
<text x="423.47" y="678.50" class="ct" fill="#111">0.66</text>
<text x="469.41" y="678.50" class="ct" fill="#111">0.63</text>
<text x="515.35" y="678.50" class="ct" fill="#fff">0</text>
<text x="561.29" y="678.50" class="ct" fill="#111">0.57</text>
<text x="607.23" y="678.50" class="ct" fill="#fff">0.77</text>
<text x="423.47" y="634.58" class="ct" fill="#fff">0.71</text>
<text x="469.41" y="634.58" class="ct" fill="#fff">0.68</text>
<text x="515.35" y="634.58" class="ct" fill="#111">0.57</text>
<text x="561.29" y="634.58" class="ct" fill="#fff">0</text>
<text x="607.23" y="634.58" class="ct" fill="#fff">0.8</text>
<text x="423.47" y="590.66" class="ct" fill="#fff">0.72</text>
<text x="469.41" y="590.66" class="ct" fill="#fff">0.71</text>
<text x="515.35" y="590.66" class="ct" fill="#fff">0.77</text>
<text x="561.29" y="590.66" class="ct" fill="#fff">0.8</text>
<text x="607.23" y="590.66" class="ct" fill="#fff">0</text>
<line x1="396.2" y1="762.34" x2="400.5" y2="762.34" class="tk"/>
<text x="392.9" y="765.94" class="yl">S1</text>
<line x1="423.47" y1="784.3000000000001" x2="423.47" y2="788.6" class="tk"/>
<text transform="translate(427.27 791.90) rotate(-90)" class="xl">S1</text>
<line x1="396.2" y1="718.42" x2="400.5" y2="718.42" class="tk"/>
<text x="392.9" y="722.02" class="yl">S2</text>
<line x1="469.41" y1="784.3000000000001" x2="469.41" y2="788.6" class="tk"/>
<text transform="translate(473.21 791.90) rotate(-90)" class="xl">S2</text>
<line x1="396.2" y1="674.50" x2="400.5" y2="674.50" class="tk"/>
<text x="392.9" y="678.10" class="yl">S3</text>
<line x1="515.35" y1="784.3000000000001" x2="515.35" y2="788.6" class="tk"/>
<text transform="translate(519.15 791.90) rotate(-90)" class="xl">S3</text>
<line x1="396.2" y1="630.58" x2="400.5" y2="630.58" class="tk"/>
<text x="392.9" y="634.18" class="yl">E1</text>
<line x1="561.29" y1="784.3000000000001" x2="561.29" y2="788.6" class="tk"/>
<text transform="translate(565.09 791.90) rotate(-90)" class="xl">E1</text>
<line x1="396.2" y1="586.66" x2="400.5" y2="586.66" class="tk"/>
<text x="392.9" y="590.26" class="yl">E2</text>
<line x1="607.23" y1="784.3000000000001" x2="607.23" y2="788.6" class="tk"/>
<text transform="translate(611.03 791.90) rotate(-90)" class="xl">E2</text>
<defs><linearGradient id="gf" x1="0" y1="1" x2="0" y2="0"><stop offset="0.0000" stop-color="rgb(14, 0, 250)"/><stop offset="0.0278" stop-color="rgb(14, 0, 250)"/><stop offset="0.0278" stop-color="rgb(14, 0, 250)"/><stop offset="0.0556" stop-color="rgb(14, 0, 250)"/><stop offset="0.0556" stop-color="rgb(14, 0, 250)"/><stop offset="0.0833" stop-color="rgb(14, 0, 250)"/><stop offset="0.0833" stop-color="rgb(34, 22, 250)"/><stop offset="0.1111" stop-color="rgb(34, 22, 250)"/><stop offset="0.1111" stop-color="rgb(50, 38, 251)"/><stop offset="0.1389" stop-color="rgb(50, 38, 251)"/><stop offset="0.1389" stop-color="rgb(65, 54, 251)"/><stop offset="0.1667" stop-color="rgb(65, 54, 251)"/><stop offset="0.1667" stop-color="rgb(80, 70, 251)"/><stop offset="0.1944" stop-color="rgb(80, 70, 251)"/><stop offset="0.1944" stop-color="rgb(95, 86, 252)"/><stop offset="0.2222" stop-color="rgb(95, 86, 252)"/><stop offset="0.2222" stop-color="rgb(110, 102, 252)"/><stop offset="0.2500" stop-color="rgb(110, 102, 252)"/><stop offset="0.2500" stop-color="rgb(126, 118, 252)"/><stop offset="0.2778" stop-color="rgb(126, 118, 252)"/><stop offset="0.2778" stop-color="rgb(141, 134, 253)"/><stop offset="0.3056" stop-color="rgb(141, 134, 253)"/><stop offset="0.3056" stop-color="rgb(156, 150, 253)"/><stop offset="0.3333" stop-color="rgb(156, 150, 253)"/><stop offset="0.3333" stop-color="rgb(171, 166, 253)"/><stop offset="0.3611" stop-color="rgb(171, 166, 253)"/><stop offset="0.3611" stop-color="rgb(187, 183, 254)"/><stop offset="0.3889" stop-color="rgb(187, 183, 254)"/><stop offset="0.3889" stop-color="rgb(202, 199, 254)"/><stop offset="0.4167" stop-color="rgb(202, 199, 254)"/><stop offset="0.4167" stop-color="rgb(217, 215, 254)"/><stop offset="0.4444" stop-color="rgb(217, 215, 254)"/><stop offset="0.4444" stop-color="rgb(232, 231, 255)"/><stop offset="0.4722" stop-color="rgb(232, 231, 255)"/><stop offset="0.4722" stop-color="rgb(247, 247, 255)"/><stop offset="0.5000" stop-color="rgb(247, 247, 255)"/><stop offset="0.5000" stop-color="rgb(253, 247, 248)"/><stop offset="0.5278" stop-color="rgb(253, 247, 248)"/><stop offset="0.5278" stop-color="rgb(250, 232, 234)"/><stop offset="0.5556" stop-color="rgb(250, 232, 234)"/><stop offset="0.5556" stop-color="rgb(248, 216, 220)"/><stop offset="0.5833" stop-color="rgb(248, 216, 220)"/><stop offset="0.5833" stop-color="rgb(246, 202, 206)"/><stop offset="0.6111" stop-color="rgb(246, 202, 206)"/><stop offset="0.6111" stop-color="rgb(244, 187, 193)"/><stop offset="0.6389" stop-color="rgb(244, 187, 193)"/><stop offset="0.6389" stop-color="rgb(244, 174, 181)"/><stop offset="0.6667" stop-color="rgb(244, 174, 181)"/><stop offset="0.6667" stop-color="rgb(243, 161, 168)"/><stop offset="0.6944" stop-color="rgb(243, 161, 168)"/><stop offset="0.6944" stop-color="rgb(243, 145, 153)"/><stop offset="0.7222" stop-color="rgb(243, 145, 153)"/><stop offset="0.7222" stop-color="rgb(243, 128, 136)"/><stop offset="0.7500" stop-color="rgb(243, 128, 136)"/><stop offset="0.7500" stop-color="rgb(244, 111, 118)"/><stop offset="0.7778" stop-color="rgb(244, 111, 118)"/><stop offset="0.7778" stop-color="rgb(245, 94, 100)"/><stop offset="0.8056" stop-color="rgb(245, 94, 100)"/><stop offset="0.8056" stop-color="rgb(247, 82, 87)"/><stop offset="0.8333" stop-color="rgb(247, 82, 87)"/><stop offset="0.8333" stop-color="rgb(248, 70, 73)"/><stop offset="0.8611" stop-color="rgb(248, 70, 73)"/><stop offset="0.8611" stop-color="rgb(249, 60, 62)"/><stop offset="0.8889" stop-color="rgb(249, 60, 62)"/><stop offset="0.8889" stop-color="rgb(250, 49, 51)"/><stop offset="0.9167" stop-color="rgb(250, 49, 51)"/><stop offset="0.9167" stop-color="rgb(251, 40, 39)"/><stop offset="0.9444" stop-color="rgb(251, 40, 39)"/><stop offset="0.9444" stop-color="rgb(252, 33, 27)"/><stop offset="0.9722" stop-color="rgb(252, 33, 27)"/><stop offset="0.9722" stop-color="rgb(253, 28, 14)"/><stop offset="1.0000" stop-color="rgb(253, 28, 14)"/></linearGradient></defs>
<rect x="643.5" y="564.7" width="16.0" height="219.6" fill="url(#gf)"/>
<rect x="643.5" y="564.7" width="16.0" height="219.6" fill="none" stroke="#333" stroke-width="0.7"/>
<line x1="659.5" y1="784.30" x2="663.8" y2="784.30" class="tk"/>
<text x="669.20" y="788.70" class="cl">0.0</text>
<line x1="659.5" y1="747.70" x2="663.8" y2="747.70" class="tk"/>
<text x="669.20" y="752.10" class="cl">0.1</text>
<line x1="659.5" y1="711.10" x2="663.8" y2="711.10" class="tk"/>
<text x="669.20" y="715.50" class="cl">0.3</text>
<line x1="659.5" y1="674.50" x2="663.8" y2="674.50" class="tk"/>
<text x="669.20" y="678.90" class="cl">0.4</text>
<line x1="659.5" y1="637.90" x2="663.8" y2="637.90" class="tk"/>
<text x="669.20" y="642.30" class="cl">0.5</text>
<line x1="659.5" y1="601.30" x2="663.8" y2="601.30" class="tk"/>
<text x="669.20" y="605.70" class="cl">0.7</text>
<line x1="659.5" y1="564.70" x2="663.8" y2="564.70" class="tk"/>
<text x="669.20" y="569.10" class="cl">0.8</text>
<text x="349.6" y="582.4" class="tag">(f)</text>
</g>
</svg></body></html>
